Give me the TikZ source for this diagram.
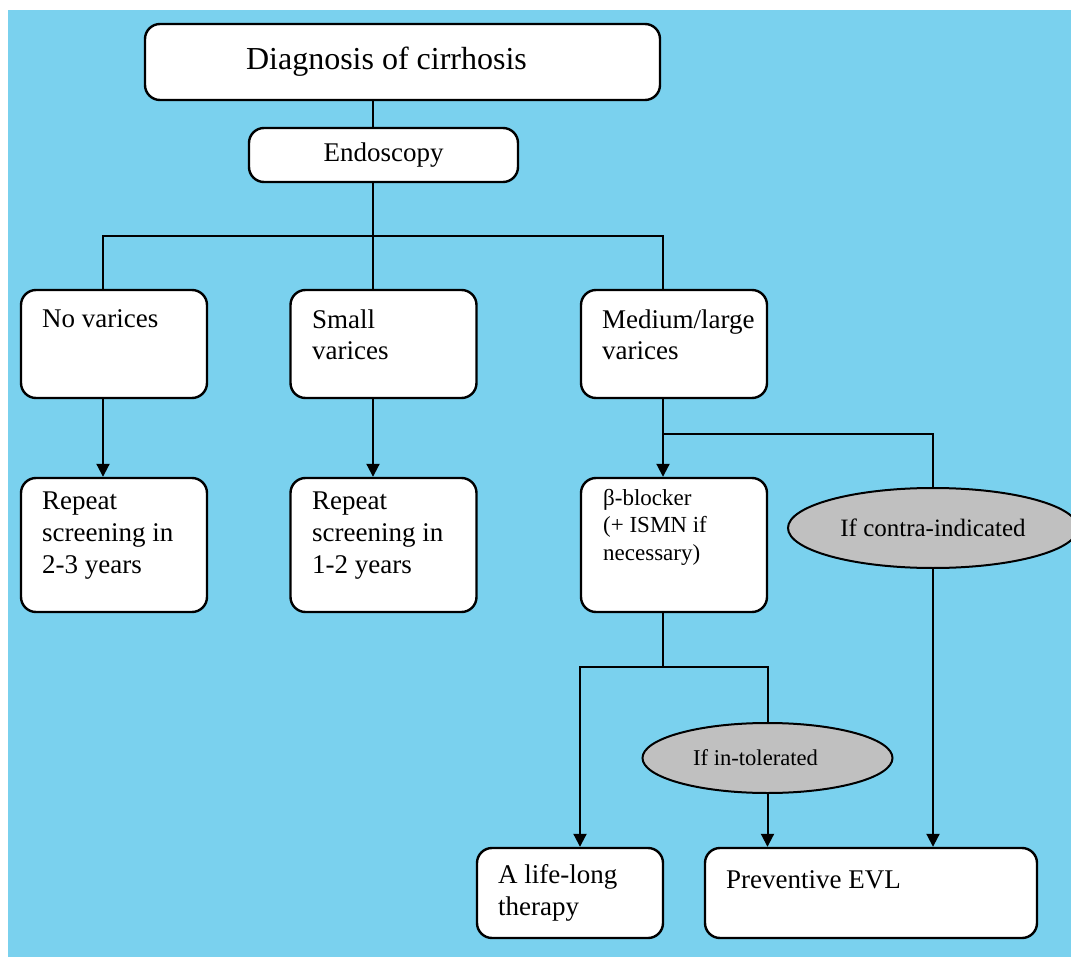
\documentclass[tikz,border=0pt]{standalone}
\usepackage{fontspec}
\setmainfont{Liberation Serif}
\usetikzlibrary{arrows.meta,shapes.geometric}
\definecolor{skyback}{RGB}{122,209,238}
\definecolor{condgray}{RGB}{192,192,192}

\begin{document}
\begin{tikzpicture}[x=1pt,y=-1pt,
	box/.style={draw,fill=white,line width=2.4pt,rounded corners=15pt,inner sep=0pt},
	txt/.style={anchor=base west,align=left,inner sep=0pt,font=\fontsize{27}{32}\selectfont},
	cond/.style={draw,fill=condgray,ellipse,line width=2pt,inner sep=0pt},
	link/.style={line width=2pt},
	arr/.style={line width=2pt,-{Triangle[length=13pt,width=13pt]}}]

		\useasboundingbox (0,0) rectangle (1071,957);
		\fill[skyback] (8,10) rectangle (1071,957);

		% top of the chart
		\node[box,minimum width=515pt,minimum height=76pt,font=\fontsize{32}{38}\selectfont] (diag) at (402.5,62) {Diagnosis of cirrhosis\hspace*{32pt}};
		\node[box,minimum width=269pt,minimum height=54pt,font=\fontsize{27}{32}\selectfont] (endo) at (383.5,155) {\raisebox{-4pt}{Endoscopy}};

		% findings (text nodes sit on the baseline of their last line)
		\node[box,minimum width=186pt,minimum height=108pt] (nov) at (114,344) {};
		\node[box,minimum width=186pt,minimum height=108pt] (sml) at (383.5,344) {};
		\node[box,minimum width=186pt,minimum height=108pt] (med) at (674,344) {};
		\node[txt] (novt) at (42,328) {No varices};
		\node[txt] (smlt) at (312,360) {Small\\varices};
		\node[txt] (medt) at (602,360) {Medium/large\\varices};

		% follow-up
		\node[box,minimum width=186pt,minimum height=134pt] (rep1) at (114,545) {};
		\node[box,minimum width=186pt,minimum height=134pt] (rep2) at (383.5,545) {};
		\node[box,minimum width=186pt,minimum height=134pt] (beta) at (674,545) {};
		\node[txt] (rep1t) at (42,573) {Repeat\\screening in\\2-3 years};
		\node[txt] (rep2t) at (312,573) {Repeat\\screening in\\1-2 years};
		\node[txt,font=\fontsize{23}{27.5}\selectfont] (betat) at (603,560) {β-blocker\\(+ ISMN if\\necessary)};

		\node[cond,minimum width=290pt,minimum height=80pt,font=\fontsize{25}{30}\selectfont] (contra) at (933,528) {If contra-indicated};
		\node[cond,minimum width=250pt,minimum height=70pt,font=\fontsize{22.6}{27}\selectfont] (intol) at (767.5,758) {If in-tolerated\hspace*{24pt}};

		% treatment
		\node[box,minimum width=186pt,minimum height=90pt] (life) at (570,893) {};
		\node[box,minimum width=332pt,minimum height=90pt] (evl) at (871,893) {};
		\node[txt] (lifet) at (498,915) {A life-long\\therapy};
		\node[txt] (evlt) at (726,888) {Preventive EVL};

		\coordinate (hub) at (373,236);
		\coordinate (fork) at (663,434);
		\coordinate (split) at (663,667);

		\draw[link] (diag.south -| hub) -- (endo.north -| hub);
		\draw[link] (endo.south -| hub) -- (sml.north -| hub);
		\draw[link] ([xshift=-11pt]nov.north) |- (hub) -| ([xshift=-11pt]med.north);

		\draw[arr] ([xshift=-11pt]nov.south) -- ([xshift=-11pt]rep1.north);
		\draw[arr] ([xshift=-10.5pt]sml.south) -- ([xshift=-10.5pt]rep2.north);
		\draw[arr] (med.south -| fork) -- (beta.north -| fork);
		\draw[link] (fork) -| (contra.north);
		\draw[arr] (contra.south) -- (evl.north -| contra.south);

		\draw[link] (beta.south -| split) -- (split);
		\draw[arr] (split) -| ([xshift=10pt]life.north);
		\draw[link] (split) -| (intol.north);
		\draw[arr] (intol.south) -- (evl.north -| intol.south);

	\end{tikzpicture}
\end{document}
